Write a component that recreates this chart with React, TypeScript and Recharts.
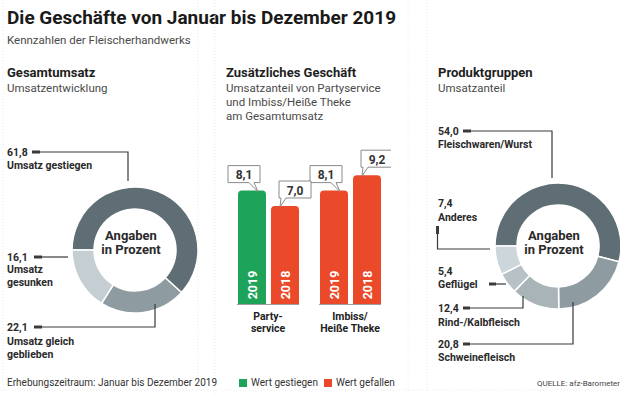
import { PieChart, Pie, Cell, BarChart, Bar, XAxis, YAxis, LabelList } from "recharts";

// Gesamtumsatz (Umsatzentwicklung)
const umsatzLabels = ["Umsatz gestiegen", "Umsatz gleich geblieben", "Umsatz gesunken"];
const umsatzValues = [61.8, 22.1, 16.1];
const umsatzColors = ["#5f6d74", "#8e9ba1", "#c4ced3"];

// Produktgruppen (Umsatzanteil)
const produktLabels = ["Fleischwaren/Wurst", "Schweinefleisch", "Rind-/Kalbfleisch", "Geflügel", "Anderes"];
const produktValues = [54.0, 20.8, 12.4, 5.4, 7.4];
const produktColors = ["#5f6d74", "#8e9ba1", "#a9b4b9", "#b7c1c6", "#cdd6da"];

// Zusätzliches Geschäft
const geschaeftGroups = ["Party-\nservice", "Imbiss/\nHeiße Theke"];
const jahre = ["2019", "2018"];
const werte2019 = [8.1, 8.1];
const werte2018 = [7.0, 9.2];
const trend2019 = ["gestiegen", "gefallen"];
const trend2018 = ["gefallen", "gefallen"];

const GREEN = "#1ea35b";
const RED = "#ea4a2a";
const FONT = "Roboto, 'Noto Sans', sans-serif";
const LINE = "#3a3a3a";

const fmt = (v: number) => v.toFixed(1).replace(".", ",");

const umsatzData = umsatzLabels.map((name, i) => ({ name, value: umsatzValues[i] }));
const produktData = produktLabels.map((name, i) => ({ name, value: produktValues[i] }));
const barData = geschaeftGroups.map((group, i) => ({
  group,
  y2019: werte2019[i],
  y2018: werte2018[i],
  c2019: trend2019[i] === "gestiegen" ? GREEN : RED,
  c2018: trend2018[i] === "gestiegen" ? GREEN : RED,
}));

const ValueBox = (side: number) => (props: any) => {
  const { x, y, width, value } = props;
  const bw = 32;
  const bh = 17;
  const mid = x + width / 2;
  const boxCx = mid + (side < 0 ? -8 : 10);
  const left = boxCx - bw / 2;
  const right = boxCx + bw / 2;
  const bottom = y - 8;
  const top = bottom - bh;
  const tipX = mid + (side < 0 ? 6 : -5);
  const a = side < 0 ? boxCx + 5 : boxCx - 14;
  const b = a + 5;
  const d = `M${left},${top} H${right} V${bottom} H${b} L${tipX},${y + 1} L${a},${bottom} H${left} Z`;
  return (
    <g>
      <path d={d} fill="#fff" stroke="#8a8a8a" strokeWidth={1} />
      <text x={boxCx} y={top + bh / 2 + 1} textAnchor="middle" dominantBaseline="central"
        fontFamily={FONT} fontWeight={700} fontSize={12} fill="#333">{fmt(value)}</text>
    </g>
  );
};

const YearLabel = (year: string) => (props: any) => {
  const { x, y, width, height } = props;
  const cx = x + width / 2;
  const cy = y + height - 19;
  return (
    <text x={cx} y={cy} textAnchor="middle" dominantBaseline="central" transform={`rotate(-90, ${cx}, ${cy})`}
      fontFamily={FONT} fontWeight={700} fontSize={12.5} fill="#fff">{year}</text>
  );
};

const GroupTick = (props: any) => {
  const { x, y, payload } = props;
  const lines = String(payload.value).split("\n");
  return (
    <g>
      <line x1={x - 31} x2={x + 31} y1={y + 0.5} y2={y + 0.5} stroke="#a0a0a0" strokeWidth={1} />
      {lines.map((l, i) => (
        <text key={i} x={x} y={y + 12 + i * 12} textAnchor="middle" dominantBaseline="central"
          fontFamily={FONT} fontWeight={700} fontSize={10.5} fill="#222">{l}</text>
      ))}
    </g>
  );
};

function Txt({ x, y, children, size = 10.5 }: any) {
  return (
    <text x={x} y={y} dominantBaseline="central" fontFamily={FONT} fontWeight={700}
      fontSize={size} fill="#2a2a2a">{children}</text>
  );
}

function Callouts() {
  return (
    <svg width={620} height={394} style={{ position: "absolute", left: 0, top: 0, pointerEvents: "none" }}>
      {/* faint panel rules */}
      {[3, 198, 215, 408, 427].map((x) => (
        <line key={x} x1={x} x2={x} y1={0} y2={394} stroke="#ececec" strokeDasharray="1 2" />
      ))}
      <line x1={0} x2={620} y1={390} y2={390} stroke="#ececec" strokeDasharray="1 2" />

      {/* left donut */}
      <Txt x={7} y={152}>{fmt(umsatzValues[0])}</Txt>
      <line x1={32} x2={40} y1={152} y2={152} stroke={LINE} strokeWidth={3} />
      <polyline points="40,152 128,152 128,181" fill="none" stroke={LINE} strokeWidth={1.2} />
      <Txt x={7} y={165}>Umsatz gestiegen</Txt>

      <Txt x={7} y={257}>{fmt(umsatzValues[2])}</Txt>
      <line x1={34} x2={42} y1={257} y2={257} stroke={LINE} strokeWidth={3} />
      <polyline points="42,257 68,257" fill="none" stroke={LINE} strokeWidth={1.2} />
      <Txt x={7} y={269}>Umsatz</Txt>
      <Txt x={7} y={282}>gesunken</Txt>

      <Txt x={7} y={327}>{fmt(umsatzValues[1])}</Txt>
      <line x1={34} x2={42} y1={327} y2={327} stroke={LINE} strokeWidth={3} />
      <polyline points="42,327 155,327 155,304" fill="none" stroke={LINE} strokeWidth={1.2} />
      <Txt x={7} y={341}>Umsatz gleich</Txt>
      <Txt x={7} y={354}>geblieben</Txt>

      {/* right donut */}
      <Txt x={438} y={131}>{fmt(produktValues[0])}</Txt>
      <line x1={463} x2={471} y1={131} y2={131} stroke={LINE} strokeWidth={3} />
      <polyline points="471,131 552,131 552,178" fill="none" stroke={LINE} strokeWidth={1.2} />
      <Txt x={438} y={144}>Fleischwaren/Wurst</Txt>

      <Txt x={438} y={203}>{fmt(produktValues[4])}</Txt>
      <Txt x={438} y={217}>Anderes</Txt>
      <line x1={437.5} x2={437.5} y1={226} y2={234} stroke={LINE} strokeWidth={3} />
      <polyline points="437.5,234 437.5,249 490,249" fill="none" stroke={LINE} strokeWidth={1.2} />

      <Txt x={438} y={271}>{fmt(produktValues[3])}</Txt>
      <Txt x={438} y={284}>Geflügel</Txt>
      <line x1={489} x2={496} y1={284} y2={284} stroke={LINE} strokeWidth={3} />
      <polyline points="496,284 506,284" fill="none" stroke={LINE} strokeWidth={1.2} />

      <Txt x={438} y={308}>{fmt(produktValues[2])}</Txt>
      <line x1={463} x2={470} y1={308} y2={308} stroke={LINE} strokeWidth={3} />
      <polyline points="470,308 523,308 523,296" fill="none" stroke={LINE} strokeWidth={1.2} />
      <Txt x={438} y={322}>Rind-/Kalbfleisch</Txt>

      <Txt x={438} y={344}>{fmt(produktValues[1])}</Txt>
      <line x1={463} x2={470} y1={344} y2={344} stroke={LINE} strokeWidth={3} />
      <polyline points="470,344 573,344 573,302" fill="none" stroke={LINE} strokeWidth={1.2} />
      <Txt x={438} y={357}>Schweinefleisch</Txt>

      {/* donut centers */}
      {[130, 553].map((cx) => (
        <g key={cx}>
          <text x={cx + 1} y={235} textAnchor="middle" dominantBaseline="central" fontFamily={FONT}
            fontWeight={700} fontSize={13} fill="#2a2a2a">Angaben</text>
          <text x={cx + 1} y={249} textAnchor="middle" dominantBaseline="central" fontFamily={FONT}
            fontWeight={700} fontSize={13} fill="#2a2a2a">in Prozent</text>
        </g>
      ))}
    </svg>
  );
}

const abs = (left: number, top: number, extra: any = {}) => ({ position: "absolute" as const, left, top, ...extra });

export default function App() {
  const sub = { fontSize: 11.5, color: "#4a4a4a", lineHeight: "14px", whiteSpace: "nowrap" as const };
  const head = { fontSize: 13, fontWeight: 700, color: "#1e1e1e", whiteSpace: "nowrap" as const };
  const foot = { fontSize: 10, color: "#333", whiteSpace: "nowrap" as const, lineHeight: "12px" };
  return (
    <div style={{ position: "absolute", left: 0, top: 0, width: 620, height: 394, background: "#fff", fontFamily: FONT, overflow: "hidden" }}>
      <div style={abs(7, 6, { fontSize: 19, fontWeight: 700, color: "#1a1a1a", whiteSpace: "nowrap" })}>
        Die Geschäfte von Januar bis Dezember 2019
      </div>
      <div style={abs(7, 33, sub)}>Kennzahlen der Fleischerhandwerks</div>

      <div style={abs(7, 65, head)}>Gesamtumsatz</div>
      <div style={abs(7, 81, sub)}>Umsatzentwicklung</div>

      <div style={abs(226, 65, head)}>Zusätzliches Geschäft</div>
      <div style={abs(226, 81, sub)}>
        Umsatzanteil von Partyservice<br />und Imbiss/Heiße Theke<br />am Gesamtumsatz
      </div>

      <div style={abs(438, 65, head)}>Produktgruppen</div>
      <div style={abs(438, 81, sub)}>Umsatzanteil</div>

      <div style={abs(0, 100)}>
        <PieChart width={205} height={290}>
          <Pie data={umsatzData} dataKey="value" cx={130} cy={145} innerRadius={41} outerRadius={63}
            startAngle={180} endAngle={-180} stroke="#fff" strokeWidth={1.5} isAnimationActive={false}>
            {umsatzData.map((d, i) => <Cell key={d.name} fill={umsatzColors[i]} />)}
          </Pie>
        </PieChart>
      </div>

      <div style={abs(410, 100)}>
        <PieChart width={210} height={290}>
          <Pie data={produktData} dataKey="value" cx={143} cy={141} innerRadius={41} outerRadius={63}
            startAngle={180} endAngle={-180} stroke="#fff" strokeWidth={1.5} isAnimationActive={false}>
            {produktData.map((d, i) => <Cell key={d.name} fill={produktColors[i]} />)}
          </Pie>
        </PieChart>
      </div>

      <div style={abs(227, 140)}>
        <BarChart width={164} height={200} data={barData} margin={{ top: 24, right: 0, bottom: 0, left: 0 }}
          barSize={28} barGap={5}>
          <XAxis dataKey="group" height={36} axisLine={false} tickLine={false} tickSize={0} tickMargin={0}
            interval={0} tick={<GroupTick />} />
          <YAxis hide domain={[0, 10]} />
          <Bar dataKey="y2019" radius={[4, 4, 0, 0]} isAnimationActive={false}>
            {barData.map((d, i) => <Cell key={i} fill={d.c2019} />)}
            <LabelList dataKey="y2019" content={ValueBox(-1)} />
            <LabelList dataKey="y2019" content={YearLabel(jahre[0])} />
          </Bar>
          <Bar dataKey="y2018" radius={[4, 4, 0, 0]} isAnimationActive={false}>
            {barData.map((d, i) => <Cell key={i} fill={d.c2018} />)}
            <LabelList dataKey="y2018" content={ValueBox(1)} />
            <LabelList dataKey="y2018" content={YearLabel(jahre[1])} />
          </Bar>
        </BarChart>
      </div>

      <Callouts />

      <div style={abs(7, 377, foot)}>Erhebungszeitraum: Januar bis Dezember 2019</div>
      <div style={abs(239, 377, { ...foot, display: "flex", alignItems: "center" })}>
        <span style={{ width: 8, height: 8, background: GREEN, display: "inline-block", marginRight: 4 }} />
        Wert gestiegen
        <span style={{ width: 8, height: 8, background: RED, display: "inline-block", marginLeft: 6, marginRight: 4 }} />
        Wert gefallen
      </div>
      <div style={abs(537, 379, { fontSize: 8, color: "#444", whiteSpace: "nowrap" })}>QUELLE: afz-Barometer</div>
    </div>
  );
}
